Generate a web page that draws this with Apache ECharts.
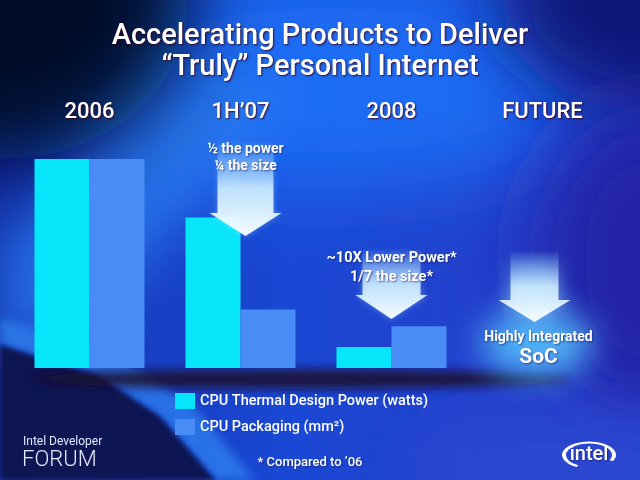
<!DOCTYPE html>
<html>
<head>
<meta charset="utf-8">
<script src="https://cdn.jsdelivr.net/npm/echarts@6/dist/echarts.min.js"></script>
<style>
    html, body { margin: 0; padding: 0; }
    #wrap { position: relative; width: 640px; height: 480px; overflow: hidden; }
    #bg, #chart { position: absolute; left: 0; top: 0; width: 640px; height: 480px; }
</style>
</head>
<body>
<div id="wrap">
    <!-- the photographed slide background, roughly -->
    <svg id="bg" width="640" height="480" viewBox="0 0 640 480">
        <defs>
            <linearGradient id="base" x1="0" y1="0" x2="1" y2="0">
                <stop offset="0" stop-color="#1434b0"/>
                <stop offset="0.45" stop-color="#1a48d4"/>
                <stop offset="1" stop-color="#2a3cc6"/>
            </linearGradient>
            <filter id="b40" x="-100%" y="-100%" width="300%" height="300%"><feGaussianBlur stdDeviation="40"/></filter>
            <filter id="b25" x="-100%" y="-100%" width="300%" height="300%"><feGaussianBlur stdDeviation="25"/></filter>
            <filter id="b16" x="-100%" y="-100%" width="300%" height="300%"><feGaussianBlur stdDeviation="16"/></filter>
            <filter id="b5" x="-50%" y="-50%" width="200%" height="200%"><feGaussianBlur stdDeviation="5"/></filter>
            <filter id="b2" x="-50%" y="-50%" width="200%" height="200%"><feGaussianBlur stdDeviation="2"/></filter>
        </defs>
        <rect width="640" height="480" fill="url(#base)"/>
        <ellipse cx="330" cy="80" rx="270" ry="110" fill="#1e6cf4" filter="url(#b40)"/>
        <polygon points="140,80 300,80 90,330 0,345 0,250" fill="#2a7cf2" opacity="0.75" filter="url(#b25)"/>
        <ellipse cx="0" cy="0" rx="190" ry="160" fill="#040a2c" filter="url(#b40)"/>
        <ellipse cx="650" cy="0" rx="150" ry="110" fill="#0a1478" filter="url(#b40)"/>
        <ellipse cx="650" cy="260" rx="110" ry="150" fill="#2222a6" filter="url(#b40)"/>
        <ellipse cx="560" cy="470" rx="150" ry="60" fill="#2c46d0" filter="url(#b25)"/>
        <polygon points="0,318 110,352 195,408 255,480 215,480 160,417 100,377 0,345" fill="#2e7eee" opacity="0.8" filter="url(#b5)"/>
        <polygon points="0,345 100,377 160,417 215,480 0,480" fill="#0b1452" filter="url(#b2)"/>
        <ellipse cx="300" cy="379" rx="270" ry="10" fill="#1c0a2a" opacity="0.85" filter="url(#b5)"/>
        <ellipse cx="537" cy="343" rx="55" ry="34" fill="#56c6ff" opacity="0.85" filter="url(#b16)"/>
    </svg>
    <div id="chart"></div>
</div>
<script>
    const categories = ['2006', '1H’07', '2008', 'FUTURE']
    // heights, 2006 = 100
    const tdpValues = [100, 72, 10, null]
    const packagingValues = [100, 28, 20, null]
    const seriesNames = ['CPU Thermal Design Power (watts)', 'CPU Packaging (mm²)']

    const font = 'Roboto, "Open Sans", sans-serif'
    const shadow = {
        textShadowColor: 'rgba(60, 0, 30, 0.9)',
        textShadowBlur: 2,
        textShadowOffsetX: 1,
        textShadowOffsetY: 1
    }

    const chart = echarts.init(document.getElementById('chart'))

    const getOption = () => {
        return {
            animation: false,
            backgroundColor: 'transparent',
            title: {
                text: 'Accelerating Products to Deliver\n“Truly” Personal Internet',
                left: 'center',
                top: 21,
                padding: 0,
                textStyle: {
                    color: '#ffffff',
                    fontFamily: font,
                    fontSize: 29,
                    fontWeight: 500,
                    lineHeight: 31,
                    ...shadow
                }
            },
            legend: {
                orient: 'vertical',
                left: 175,
                top: 393,
                padding: 0,
                itemWidth: 20,
                itemHeight: 16,
                itemGap: 10,
                icon: 'rect',
                selectedMode: false,
                data: seriesNames,
                textStyle: {
                    color: '#ffffff',
                    fontFamily: font,
                    fontSize: 14.5,
                    fontWeight: 500
                }
            },
            grid: {
                left: 14,
                right: 22,
                top: 159,
                bottom: 112
            },
            xAxis: {
                type: 'category',
                position: 'top',
                data: categories,
                axisLine: {show: false},
                axisTick: {show: false},
                axisLabel: {
                    color: '#ffffff',
                    fontFamily: font,
                    fontSize: 22,
                    fontWeight: 500,
                    margin: 36,
                    ...shadow
                }
            },
            yAxis: {
                type: 'value',
                min: 0,
                max: 100,
                show: false
            },
            series: [
                {
                    name: seriesNames[0],
                    type: 'bar',
                    data: tdpValues,
                    barWidth: 55,
                    barGap: '0%',
                    itemStyle: {color: '#08e6fb'}
                },
                {
                    name: seriesNames[1],
                    type: 'bar',
                    data: packagingValues,
                    barWidth: 55,
                    barGap: '0%',
                    itemStyle: {color: '#4a8cf6'}
                }
            ]
        }
    }

    chart.setOption(getOption())

    // arrows and notes hang off the category centres
    const centre = (name) => chart.convertToPixel({xAxisIndex: 0}, name)

    const arrow = (cx, yTop, yHead, yTip, sw, hw, glow) => ({
        type: 'polygon',
        z: 10,
        silent: true,
        shape: {
            points: [
                [cx - sw, yTop], [cx + sw, yTop], [cx + sw, yHead], [cx + hw, yHead],
                [cx, yTip], [cx - hw, yHead], [cx - sw, yHead]
            ]
        },
        style: {
            fill: new echarts.graphic.LinearGradient(0, 0, 0, 1, [
                {offset: 0, color: 'rgba(150, 215, 255, 0)'},
                {offset: 0.5, color: 'rgba(210, 240, 255, 0.85)'},
                {offset: 1, color: '#f6fdff'}
            ]),
            shadowBlur: glow ? 18 : 6,
            shadowColor: glow ? 'rgba(140, 215, 255, 0.7)' : 'rgba(180, 230, 255, 0.4)'
        }
    })

    const note = (x, y, text, size, extra) => ({
        type: 'text',
        z: 11,
        silent: true,
        x: x,
        y: y,
        style: {
            text: text,
            fill: (extra && extra.fill) || '#ffffff',
            font: `${(extra && extra.weight) || 'bold'} ${size}px ${font}`,
            textAlign: (extra && extra.align) || 'center',
            textVerticalAlign: 'middle',
            textShadowColor: 'rgba(20, 20, 80, 0.6)',
            textShadowBlur: 2,
            textShadowOffsetX: 1,
            textShadowOffsetY: 1
        }
    })

    const c1 = centre(categories[1])
    const c2 = centre(categories[2])
    const c3 = centre(categories[3])

    chart.setOption({
        graphic: [
            arrow(c1 + 5, 140, 213, 236, 28, 36, false),
            note(c1 + 5, 149, '½ the power', 14),
            note(c1 + 5, 166, '¼ the size', 14),

            arrow(c2, 248, 295, 319, 29, 36, false),
            note(c2, 258, '~10X Lower Power*', 14.5),
            note(c2, 277, '1/7 the size*', 14.5),

            arrow(c3 - 8, 250, 300, 322, 24, 36, true),
            note(c3 - 4, 337, 'Highly Integrated', 14),
            note(c3 - 4, 358, 'SoC', 21),

            note(310, 463, '* Compared to ’06', 13, {weight: 500}),

            note(23, 442, 'Intel Developer', 12, {weight: 400, align: 'left', fill: '#e4e8ff'}),
            note(22, 460, 'FORUM', 22, {weight: 300, align: 'left', fill: '#e4e8ff'}),

            note(589, 455, 'intel', 20, {weight: 500}),
            {
                type: 'arc',
                z: 11,
                silent: true,
                x: 589,
                y: 455,
                scaleX: 2.0,
                scaleY: 1,
                shape: {cx: 0, cy: 0, r: 12.5, startAngle: 2.05, endAngle: 6.75, clockwise: true},
                style: {fill: null, stroke: '#ffffff', lineWidth: 2, strokeNoScale: true}
            }
        ]
    })
</script>
</body>
</html>
